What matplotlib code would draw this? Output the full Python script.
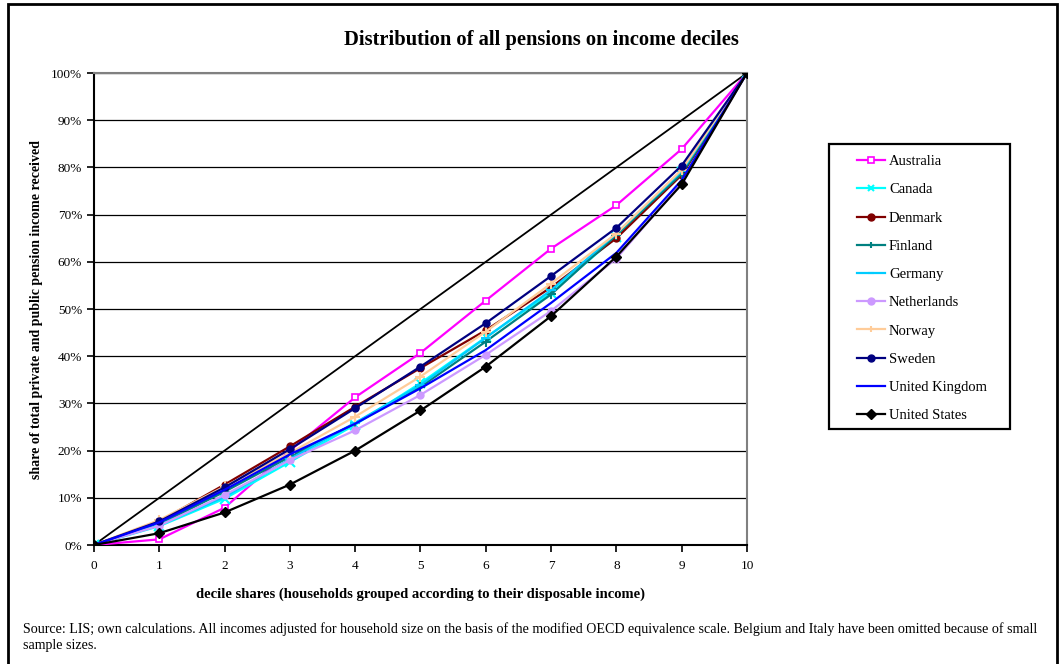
import matplotlib.pyplot as plt
import numpy as np
from matplotlib.ticker import PercentFormatter

plt.rcParams['font.family'] = ['Liberation Serif', 'DejaVu Serif']

deciles = list(range(11))

australia = [0, 1.2, 7.9, 20.0, 31.3, 40.7, 51.8, 62.8, 72.0, 83.9, 100]
canada = [0, 4.0, 9.8, 17.6, 25.5, 34.3, 44.0, 53.5, 65.3, 79.0, 100]
denmark = [0, 5.0, 12.8, 20.9, 29.3, 37.5, 45.5, 54.6, 65.0, 78.4, 100]
finland = [0, 4.4, 11.3, 18.7, 25.8, 33.5, 43.1, 53.1, 65.7, 78.7, 100]
germany = [0, 4.2, 10.2, 18.2, 25.9, 33.9, 43.9, 54.0, 66.0, 79.2, 100]
netherlands = [0, 4.1, 10.6, 18.0, 24.3, 31.8, 40.3, 49.6, 60.7, 76.7, 100]
norway = [0, 5.3, 12.4, 19.5, 27.2, 35.7, 45.2, 55.4, 66.0, 79.5, 100]
sweden = [0, 5.0, 12.2, 20.3, 29.0, 37.8, 47.0, 57.0, 67.2, 80.4, 100]
uk = [0, 4.8, 11.7, 19.2, 25.7, 33.2, 41.3, 51.3, 61.9, 77.3, 100]
us = [0, 2.5, 6.9, 12.8, 20.0, 28.5, 37.8, 48.5, 61.1, 76.4, 100]
equality = [0, 100]

# name, values, color, marker, marker face
series = [
    ("Australia", australia, "#FF00FF", "s", "white"),
    ("Canada", canada, "#00FFFF", "x", None),
    ("Denmark", denmark, "#800000", "o", None),
    ("Finland", finland, "#008080", "+", None),
    ("Germany", germany, "#00CCFF", "_", None),
    ("Netherlands", netherlands, "#CC99FF", "o", None),
    ("Norway", norway, "#FFCC99", "+", None),
    ("Sweden", sweden, "#000080", "o", None),
    ("United Kingdom", uk, "#0000FF", "None", None),
    ("United States", us, "#000000", "D", None),
]

fig = plt.figure(figsize=(10.63, 6.64), dpi=100)
ax = fig.add_axes([0.0884, 0.1792, 0.6143, 0.7108])

ax.plot([0, 10], equality, color="black", lw=1.3, zorder=2)

handles = []
for name, vals, col, mk, face in series:
    kw = dict(color=col, lw=1.6, marker=mk, markersize=5, label=name, zorder=3)
    if face:
        kw["markerfacecolor"] = face
        kw["markeredgewidth"] = 1.2
    if mk in ("x", "+", "_"):
        kw["markersize"] = 7
        kw["markeredgewidth"] = 1.5
    h, = ax.plot(deciles, vals, **kw)
    handles.append(h)

ax.set_xlim(0, 10)
ax.set_ylim(0, 100)
ax.set_xticks(deciles)
ax.set_yticks(np.arange(0, 101, 10))
ax.yaxis.set_major_formatter(PercentFormatter(decimals=0))
ax.grid(axis="y", color="black", lw=0.9)
ax.set_axisbelow(True)
ax.tick_params(direction="out", length=5, width=1.2, labelsize=9.5, colors="black")
ax.tick_params(axis="x", pad=6)
for s in ("left", "bottom"):
    ax.spines[s].set_linewidth(1.5)
for s in ("top", "right"):
    ax.spines[s].set_color("#808080")
    ax.spines[s].set_linewidth(1.5)

fig.text(541 / 1063, 1 - 40 / 664, "Distribution of all pensions on income deciles",
         fontsize=14.8, fontweight="bold", ha="center", va="center")
ax.set_xlabel("decile shares (households grouped according to their disposable income)",
              fontsize=10.5, fontweight="bold", labelpad=11)
ax.set_ylabel("share of total private and public pension income received",
              fontsize=10, fontweight="bold", labelpad=6)

# legend box drawn separately so it can match the fixed Excel frame
box = plt.Rectangle((829 / 1063, 1 - 429 / 664), 181 / 1063, 285 / 664,
                    transform=fig.transFigure, fill=False, edgecolor="black", lw=1.6)
fig.add_artist(box)
leg = fig.legend(handles=handles, loc="upper left", bbox_to_anchor=(857 / 1063, 1 - 155 / 664),
                 fontsize=10.5, frameon=False, labelspacing=1.03, handlelength=1.92,
                 borderpad=0, handletextpad=0.27, borderaxespad=0)
for lh in leg.legend_handles:
    lh.set_markersize(5)

fig.text(0.0216, 0.063,
         "Source: LIS; own calculations. All incomes adjusted for household size on the basis of the "
         "modified OECD equivalence scale. Belgium and Italy have been omitted because of small\n"
         "sample sizes.", fontsize=10.1, va="top", linespacing=1.3)

# outer frame like the embedded chart object
frame = plt.Rectangle((0.0075, -0.05), 0.987, 1.044, transform=fig.transFigure,
                      fill=False, edgecolor="black", lw=2.0)
fig.add_artist(frame)

fig.savefig("out.png", dpi=100)
